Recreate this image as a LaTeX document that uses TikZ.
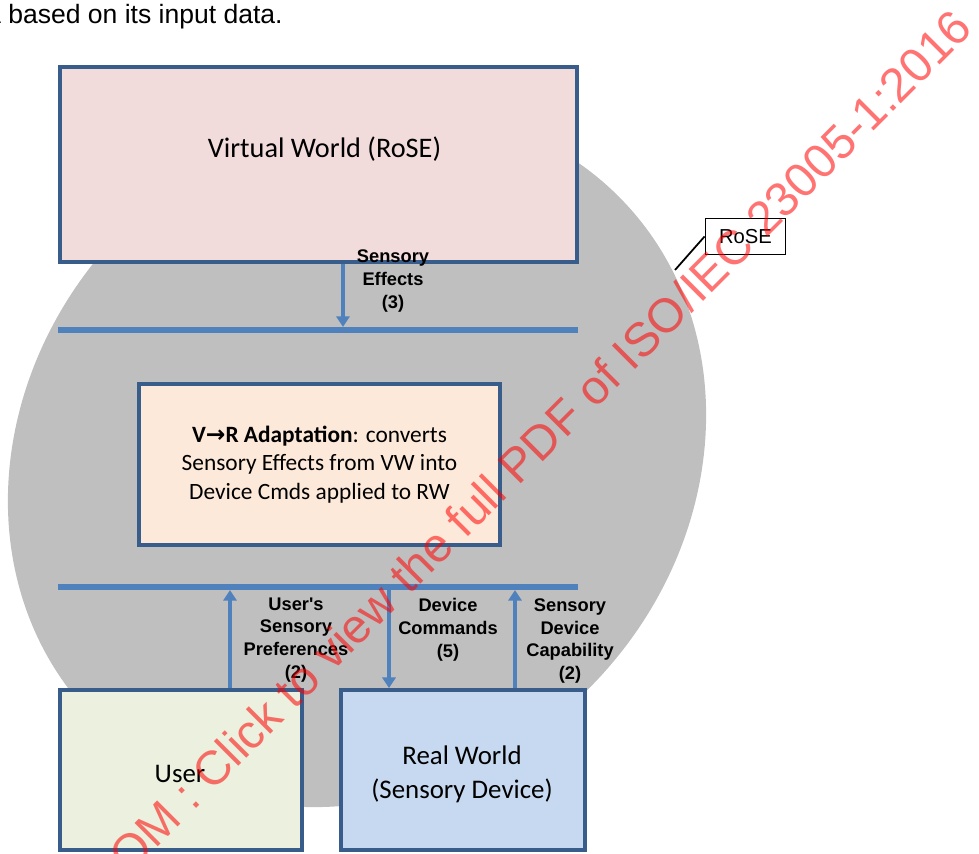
\documentclass[tikz,border=0pt]{standalone}
\usepackage{fontspec}
\setmainfont{Carlito}
\newfontfamily\arialf{Liberation Sans}
\newfontfamily\dejavuf{DejaVu Sans}
\usetikzlibrary{arrows.meta,calc}
\definecolor{boxline}{RGB}{56,93,138}
\definecolor{barblue}{RGB}{79,129,189}
\definecolor{greyc}{RGB}{191,191,191}
\definecolor{vwfill}{RGB}{242,220,219}
\definecolor{vrfill}{RGB}{253,233,217}
\definecolor{userfill}{RGB}{235,241,222}
\definecolor{rwfill}{RGB}{198,217,241}
\begin{document}
\begin{tikzpicture}[x=0.02cm,y=-0.02cm,
  box/.style={draw=boxline, line width=2.3pt, inner sep=0pt},
  bar/.style={fill=barblue, draw=none, inner sep=0pt, minimum width=10.4cm, minimum height=0.11cm},
  flow/.style={draw=barblue, line width=2.4pt, -{Triangle[width=7.5pt,length=6pt]}},
  lbl/.style={font=\arialf\bfseries\fontsize{10.4}{13}\selectfont, align=center, inner sep=0pt},
  boxtext/.style={font=\fontsize{15.3}{19.3}\selectfont, align=center, inner sep=0pt},
  ]
\useasboundingbox (0,0) rectangle (979,854);
\clip (0,0) rectangle (979,854);

% grey RoSE region
\fill[greyc, rotate around={45:(357,458)}] (357,458) ellipse [x radius=7.4cm, y radius=6.54cm];

% top text fragment
\node[font=\arialf\fontsize{15.1}{17}\selectfont, anchor=base east, inner sep=0pt] (toptext) at (283,24) {a based on its input data.};

% bars
\node[bar] (bar1) at (318,330) {};
\node[bar] (bar2) at (318,587) {};

% boxes
\node[box, fill=vwfill, minimum width=10.34cm, minimum height=3.9cm] (vw) at (318.5,164.5) {};
\node[font=\fontsize{16.1}{19}\selectfont, inner sep=0pt] (vwtxt) at (324.5,149) {Virtual World (RoSE)};
\node[box, fill=vrfill, minimum width=7.22cm, minimum height=3.22cm, font=\fontsize{13.3}{16.2}\selectfont, align=center] (vr) at (319.5,464.5)
  {{\bfseries V{\dejavuf →}R Adaptation}: converts\\Sensory Effects from VW into\\Device Cmds applied to RW};
\node[box, fill=userfill, minimum width=4.84cm, minimum height=3.2cm] (user) at (181,770) {};
\node[box, fill=rwfill, minimum width=4.88cm, minimum height=3.2cm] (rw) at (463,770) {};
\node[boxtext] (usertxt) at (180,774) {User};
\node[boxtext] (rwtxt) at (462,774) {Real World\\(Sensory Device)};

% connector x positions
\coordinate (c1) at (343,0);
\coordinate (c2) at (230,0);
\coordinate (c3) at (389,0);
\coordinate (c4) at (515,0);

% arrows
\draw[flow] (vw.south -| c1) -- (bar1.north -| c1);
\draw[flow] (user.north -| c2) -- (bar2.south -| c2);
\draw[flow] (bar2.south -| c3) -- (rw.north -| c3);
\draw[flow] (rw.north -| c4) -- (bar2.south -| c4);

% labels
\node[lbl] (l1) at (393,281) {Sensory\\Effects\\(3)};
\node[lbl] (l2) at (296,640) {User's\\Sensory\\Preferences\\(2)};
\node[lbl] (l3) at (448,630) {Device\\Commands\\(5)};
\node[lbl] (l4) at (570,641) {Sensory\\Device\\Capability\\(2)};

% RoSE callout
\node[draw=black, line width=1.1pt, fill=white, minimum width=1.6cm, minimum height=0.72cm, inner sep=0pt, font=\arialf\fontsize{11.5}{13}\selectfont] (rose) at (745.5,236.5) {RoSE};
\coordinate (roseptr) at (675,270);
\draw[black, line width=1pt] (rose.west) -- (roseptr);

% watermark
\node[font=\arialf\fontsize{27.2}{30}\selectfont, text=red, opacity=0.55, rotate=45, anchor=base east, inner sep=0pt] (wm) at (975,30) {OM : Click to view the full PDF of ISO/IEC 23005-1:2016};
\end{tikzpicture}
\end{document}
